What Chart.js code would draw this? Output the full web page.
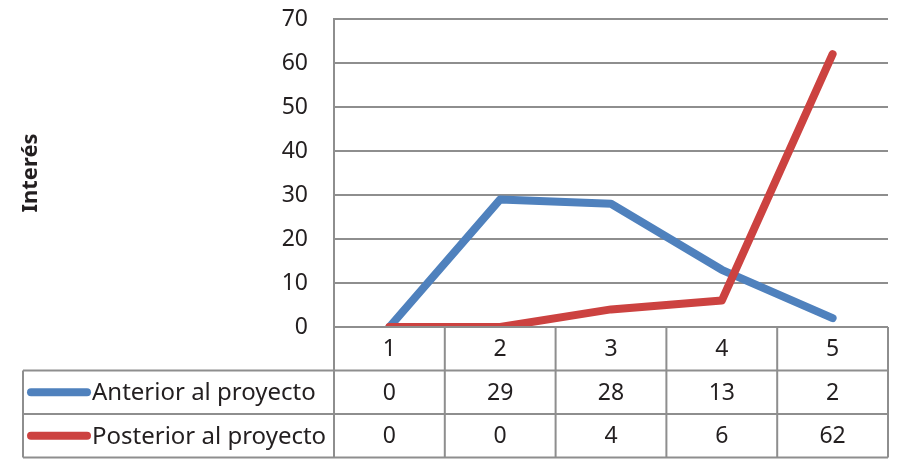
<!DOCTYPE html>
<html>
<head>
<meta charset="utf-8">
<script src="https://cdn.jsdelivr.net/npm/chart.js@4/dist/chart.umd.min.js"></script>
<style>
  body { margin: 0; background: #fff; }
</style>
</head>
<body>
<canvas id="chart" width="915" height="468"></canvas>
<script>
const categories = ["1", "2", "3", "4", "5"]
const anterior = [0, 29, 28, 13, 2]
const posterior = [0, 0, 4, 6, 62]
const seriesNames = ["Anterior al proyecto", "Posterior al proyecto"]
const yTicks = [0, 10, 20, 30, 40, 50, 60, 70]

const BLUE = "#4f81bd"
const RED = "#cc4240"
const GRID = "#8e8e8e"
const TEXT = "#231f20"
const FONT = "'Noto Sans'"

// draws the data table under the plot, columns taken from the x scale
const dataTable = {
  id: "dataTable",
  afterDraw(chart) {
    const { ctx, chartArea } = chart
    const x = chart.scales.x
    const colW = (chartArea.right - chartArea.left) / categories.length
    const rowH = 43.5
    const top = chartArea.bottom
    const tableLeft = 23
    const rows = [
      { name: seriesNames[0], color: BLUE, values: anterior },
      { name: seriesNames[1], color: RED, values: posterior }
    ]
    const bottom = top + rowH * 3

    ctx.save()
    ctx.strokeStyle = GRID
    ctx.lineWidth = 2

    // horizontal lines
    ctx.beginPath()
    ctx.moveTo(chartArea.left, top)
    ctx.lineTo(chartArea.right, top)
    for (let r = 1; r <= 3; r++) {
      ctx.moveTo(tableLeft, top + rowH * r)
      ctx.lineTo(chartArea.right, top + rowH * r)
    }
    // vertical lines
    for (let c = 0; c <= categories.length; c++) {
      const cx = chartArea.left + colW * c
      ctx.moveTo(cx, top)
      ctx.lineTo(cx, bottom)
    }
    ctx.moveTo(tableLeft, top + rowH)
    ctx.lineTo(tableLeft, bottom)
    ctx.stroke()

    ctx.fillStyle = TEXT
    ctx.font = `23px ${FONT}`
    ctx.textAlign = "center"
    ctx.textBaseline = "middle"
    categories.forEach((c, i) => {
      ctx.fillText(c, x.getPixelForValue(i), top + rowH / 2 + 1)
    })

    rows.forEach((row, r) => {
      const cy = top + rowH * (r + 1.5)
      row.values.forEach((v, i) => {
        ctx.fillText(String(v), x.getPixelForValue(i), cy + 1)
      })
      // legend key
      ctx.strokeStyle = row.color
      ctx.lineWidth = 8
      ctx.lineCap = "round"
      ctx.beginPath()
      ctx.moveTo(31, cy)
      ctx.lineTo(87, cy)
      ctx.stroke()
      ctx.textAlign = "left"
      ctx.font = `24px ${FONT}`
      ctx.fillText(row.name, 92, cy + 1)
      ctx.font = `23px ${FONT}`
      ctx.textAlign = "center"
    })
    ctx.restore()
  }
}

new Chart(document.getElementById("chart"), {
  type: "line",
  data: {
    labels: categories,
    datasets: [
      {
        label: seriesNames[0],
        data: anterior,
        borderColor: BLUE,
        borderWidth: 8,
        borderCapStyle: "round",
        borderJoinStyle: "round",
        pointRadius: 0,
        tension: 0,
        order: 2
      },
      {
        label: seriesNames[1],
        data: posterior,
        borderColor: RED,
        borderWidth: 8,
        borderCapStyle: "round",
        borderJoinStyle: "round",
        pointRadius: 0,
        tension: 0,
        order: 1
      }
    ]
  },
  options: {
    responsive: false,
    animation: false,
    layout: { padding: { top: 0, right: 27, bottom: 141, left: 0 } },
    plugins: { legend: { display: false }, tooltip: { enabled: false } },
    scales: {
      x: {
        display: false,
        offset: true
      },
      y: {
        min: 0,
        max: 70,
        afterFit: scale => {
          scale.width = 334
          scale.paddingTop = 19
        },
        afterBuildTicks: scale => { scale.ticks = yTicks.map(v => ({ value: v })) },
        grid: { color: GRID, lineWidth: 2, drawTicks: false },
        border: { color: GRID, width: 2 },
        ticks: {
          color: TEXT,
          font: { family: FONT, size: 23 },
          padding: 26
        },
        title: {
          display: true,
          text: "Interés",
          color: TEXT,
          font: { family: FONT, size: 22, weight: "bold" },
          padding: { top: 18, bottom: 0 }
        }
      }
    }
  },
  plugins: [dataTable]
})
</script>
</body>
</html>
